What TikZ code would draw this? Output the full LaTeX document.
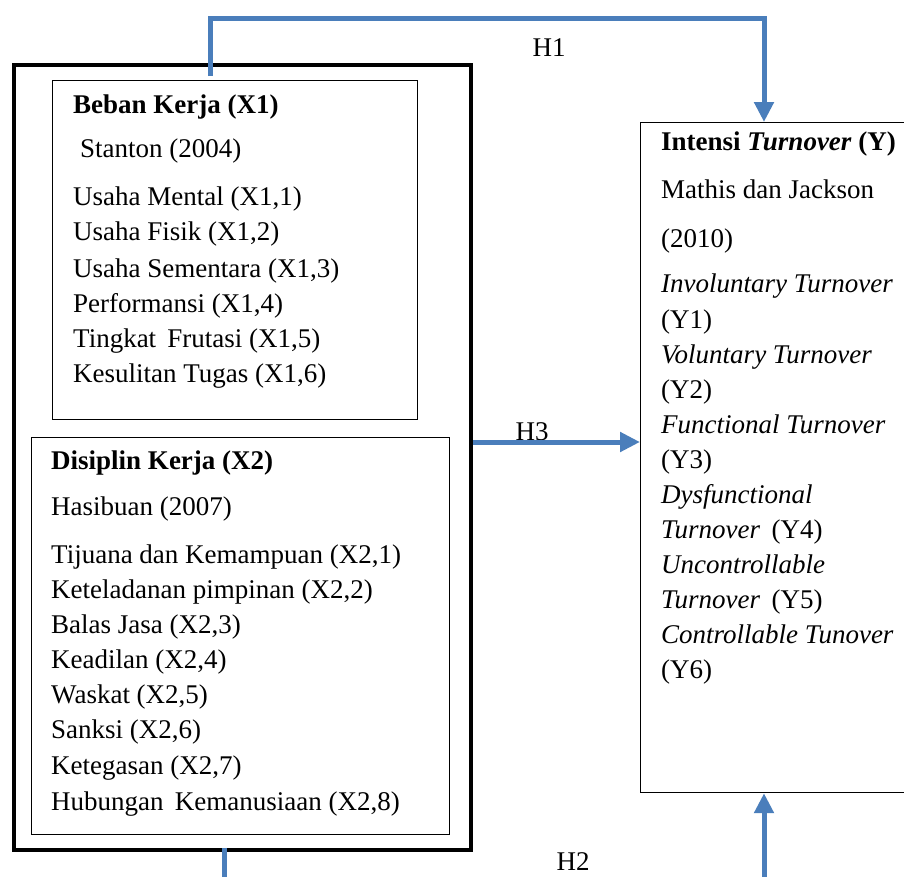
\documentclass[tikz,border=0pt]{standalone}
\usepackage{fontspec}
\setmainfont{Liberation Serif}
\usetikzlibrary{arrows.meta}
\definecolor{hypblue}{HTML}{4A7EBB}
\tikzset{
	txt/.style={anchor=base west, inner sep=0pt},
	box/.style={draw, line width=1.2pt, anchor=north west, inner sep=0pt},
	hyp/.style={draw=hypblue, line width=5pt},
	hyparrow/.style={hyp, -{Triangle[width=19pt,length=20pt]}},
}
\begin{document}
\begin{tikzpicture}[x=1pt, y=-1pt, font=\fontsize{27}{32}\selectfont]
	\useasboundingbox (0,0) rectangle (904,876);
	\clip (0,0) rectangle (904,876);
	% boxes
	\node[box, line width=4pt, minimum width=457pt, minimum height=785pt] (outer) at (12,63) {};
	\node[box, minimum width=365pt, minimum height=339pt] (X1) at (52,80) {};
	\node[box, minimum width=418pt, minimum height=397pt] (X2) at (31,437) {};
	\node[box, minimum width=300pt, minimum height=670pt] (Y) at (640,122) {};
	% Beban Kerja
	\foreach \y/\t [count=\i] in {113/{\textbf{Beban Kerja (X1)}}, 157/{\hspace{7pt}Stanton (2004)},
		205/{Usaha Mental (X1,1)}, 240/{Usaha Fisik (X1,2)}, 277/{Usaha Sementara (X1,3)},
		312/{Performansi (X1,4)}, 347/{Tingkat \,Frutasi (X1,5)}, 382/{Kesulitan Tugas (X1,6)}}
		\node[txt] (xa\i) at (73,\y) {\t};
	% Disiplin Kerja
	\foreach \y/\t [count=\i] in {469/{\textbf{Disiplin Kerja (X2)}}, 515/{Hasibuan (2007)},
		563/{Tijuana dan Kemampuan (X2,1)}, 598/{Keteladanan pimpinan (X2,2)},
		633/{Balas Jasa (X2,3)}, 668/{Keadilan (X2,4)}, 703/{Waskat (X2,5)},
		738/{Sanksi (X2,6)}, 774/{Ketegasan (X2,7)}, 810/{Hubungan \,Kemanusiaan (X2,8)}}
		\node[txt] (xb\i) at (51,\y) {\t};
	% Intensi Turnover
	\foreach \y/\t [count=\i] in {150/{\textbf{Intensi \textit{Turnover} (Y)}}, 198/{Mathis dan Jackson},
		247/{(2010)}, 292/{\textit{Involuntary Turnover}}, 328/{(Y1)},
		363/{\textit{Voluntary Turnover}}, 398/{(Y2)}, 433/{\textit{Functional Turnover}}, 468/{(Y3)},
		503/{\textit{Dysfunctional}}, 538/{\textit{Turnover} \,(Y4)}, 573/{\textit{Uncontrollable}},
		608/{\textit{Turnover} \,(Y5)}, 643/{\textit{Controllable Tunover}}, 678/{(Y6)}}
		\node[txt] (yl\i) at (661,\y) {\t};
	% hypotheses
	\coordinate (h1s) at (210,76);
	\coordinate (h1top) at (764,18);
	\coordinate (h3) at (0,442);
	\coordinate (h2s) at (224,848);
	\coordinate (h2bot) at (764,879);
	\node (H1) at (549,48) {H1};
	\node (H3) at (532,432) {H3};
	\node (H2) at (573,862) {H2};
	\draw[hyparrow] (h1s) |- (h1top) -- (h1top |- Y.north);
	\draw[hyparrow] (h3 -| outer.east) -- (h3 -| Y.west);
	\draw[hyparrow] (h2s) |- (h2bot) -- (h2bot |- Y.south);
\end{tikzpicture}
\end{document}
